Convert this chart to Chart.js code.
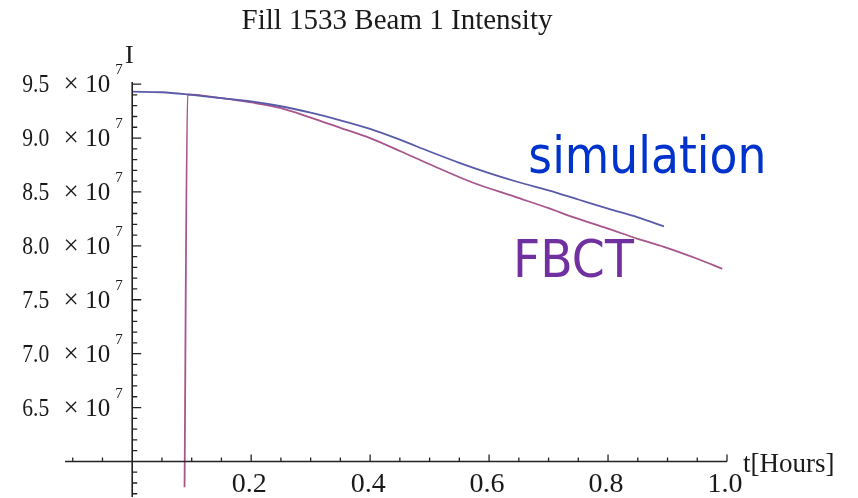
<!DOCTYPE html>
<html>
<head>
<meta charset="utf-8">
<title>Fill 1533 Beam 1 Intensity</title>
<script src="https://cdn.jsdelivr.net/npm/chart.js@4.4.1/dist/chart.umd.min.js"></script>
<style>
    html, body { margin: 0; padding: 0; background: #fff; }
    #wrap { width: 858px; height: 498px; }
</style>
</head>
<body>
<div id="wrap"><canvas id="beamChart" width="858" height="498"></canvas></div>
<script>
// Time in hours, intensity in units of 10^7
const simTime = [0, 0.05, 0.1, 0.15, 0.2, 0.25, 0.3, 0.35, 0.4, 0.45, 0.5, 0.55, 0.6, 0.65, 0.7, 0.75, 0.8, 0.85, 0.894];
const simIntensity = [9.43, 9.425, 9.40, 9.37, 9.34, 9.295, 9.235, 9.165, 9.085, 8.985, 8.875, 8.77, 8.675, 8.59, 8.515, 8.43, 8.345, 8.265, 8.18];

const fbctTime = [0.088, 0.093, 0.15, 0.2, 0.25, 0.3, 0.35, 0.4, 0.453, 0.5, 0.571, 0.644, 0.7, 0.74, 0.8, 0.85, 0.894, 0.95, 0.992];
const fbctIntensity = [5.76, 9.405, 9.37, 9.33, 9.278, 9.19, 9.095, 9.0, 8.873, 8.757, 8.59, 8.454, 8.35, 8.269, 8.16, 8.065, 7.991, 7.88, 7.787];

const xTickLabels = [0.2, 0.4, 0.6, 0.8, 1.0];
const yTickLabels = [6.5, 7.0, 7.5, 8.0, 8.5, 9.0, 9.5];

const serif = '"Liberation Serif", "Times New Roman", serif';

// Function to zip two arrays into {x, y} points
function toPoints(xs, ys) {
    return xs.map((v, i) => ({ x: v, y: ys[i] }));
}

// Mathematica style axes crossing at (0, 6.0e7), ticks pointing inwards
const axesPlugin = {
    id: 'mathAxes',
    afterDraw(chart) {
        const { ctx, scales: { x, y } } = chart;
        const x0 = x.getPixelForValue(0);
        const y0 = y.getPixelForValue(6.0);

        ctx.save();
        ctx.strokeStyle = '#222';
        ctx.lineWidth = 1.6;
        ctx.beginPath();
        ctx.moveTo(x.left, y0);
        ctx.lineTo(x.right, y0);
        ctx.moveTo(x0, y.top);
        ctx.lineTo(x0, y.bottom);
        ctx.stroke();

        // x ticks, minor every 0.05, major every 0.2
        ctx.lineWidth = 1.3;
        ctx.beginPath();
        for (let i = -2; i <= 20; i++) {
            if (i === 0) continue;
            const px = x.getPixelForValue(i * 0.05);
            const len = i % 4 === 0 ? 7 : 4;
            ctx.moveTo(px, y0);
            ctx.lineTo(px, y0 - len);
        }
        // y ticks, minor every 0.1, major every 0.5
        for (let i = 57; i <= 95; i++) {
            if (i === 60) continue;
            const py = y.getPixelForValue(i / 10);
            const len = i % 5 === 0 ? 9 : 5;
            ctx.moveTo(x0, py);
            ctx.lineTo(x0 + len, py);
        }
        ctx.stroke();

        ctx.fillStyle = '#1a1a1a';
        ctx.textBaseline = 'alphabetic';

        // x tick labels
        ctx.font = '28px ' + serif;
        ctx.textAlign = 'center';
        xTickLabels.forEach(v => {
            ctx.fillText(v.toFixed(1), x.getPixelForValue(v) - 2, y0 + 31);
        });

        // y tick labels: m × 10^7
        yTickLabels.forEach(v => {
            const py = y.getPixelForValue(v);
            ctx.font = '25px ' + serif;
            ctx.textAlign = 'right';
            ctx.fillText(v.toFixed(1), x0 - 83, py + 8, 27);
            ctx.fillText('10', x0 - 22, py + 8);
            ctx.textAlign = 'center';
            ctx.font = '27px ' + serif;
            ctx.fillText('\u00d7', x0 - 61, py + 8);
            ctx.font = '15px ' + serif;
            ctx.textAlign = 'left';
            ctx.fillText('7', x0 - 17, py - 10);
        });

        // axis labels
        ctx.font = '26px ' + serif;
        ctx.textAlign = 'center';
        ctx.fillText('I', x0 - 3, y.getPixelForValue(9.5) - 21);
        ctx.textAlign = 'left';
        ctx.font = '27px ' + serif;
        ctx.fillText('t[Hours]', x.right + 16, y0 + 11);

        // title
        ctx.textAlign = 'center';
        ctx.font = '29px ' + serif;
        ctx.fillText('Fill 1533 Beam 1 Intensity', 397, 29);

        // series annotations
        ctx.textAlign = 'left';
        ctx.font = '52px "DejaVu Sans", Verdana, sans-serif';
        ctx.fillStyle = '#0033cc';
        ctx.fillText('simulation', x.getPixelForValue(0.666), y.getPixelForValue(8.676), 238);
        ctx.fillStyle = '#7030a0';
        ctx.fillText('FBCT', x.getPixelForValue(0.64), y.getPixelForValue(7.71), 121);
        ctx.restore();
    }
};

new Chart(document.getElementById('beamChart').getContext('2d'), {
    type: 'line',
    data: {
        datasets: [
            {
                label: 'simulation',
                data: toPoints(simTime, simIntensity),
                borderColor: '#5a5aaa',
                borderWidth: 1.8,
                pointRadius: 0,
                cubicInterpolationMode: 'monotone',
                fill: false
            },
            {
                label: 'FBCT',
                data: toPoints(fbctTime, fbctIntensity),
                borderColor: '#a8558c',
                borderWidth: 1.8,
                pointRadius: 0,
                cubicInterpolationMode: 'monotone',
                fill: false
            }
        ]
    },
    options: {
        responsive: false,
        animation: false,
        layout: { padding: { left: 65, right: 131, top: 82, bottom: 1 } },
        plugins: {
            legend: { display: false },
            tooltip: { enabled: false },
            title: { display: false }
        },
        scales: {
            x: { type: 'linear', min: -0.113, max: 1.0, display: false },
            y: { type: 'linear', min: 5.67, max: 9.52, display: false }
        }
    },
    plugins: [axesPlugin]
});
</script>
</body>
</html>
